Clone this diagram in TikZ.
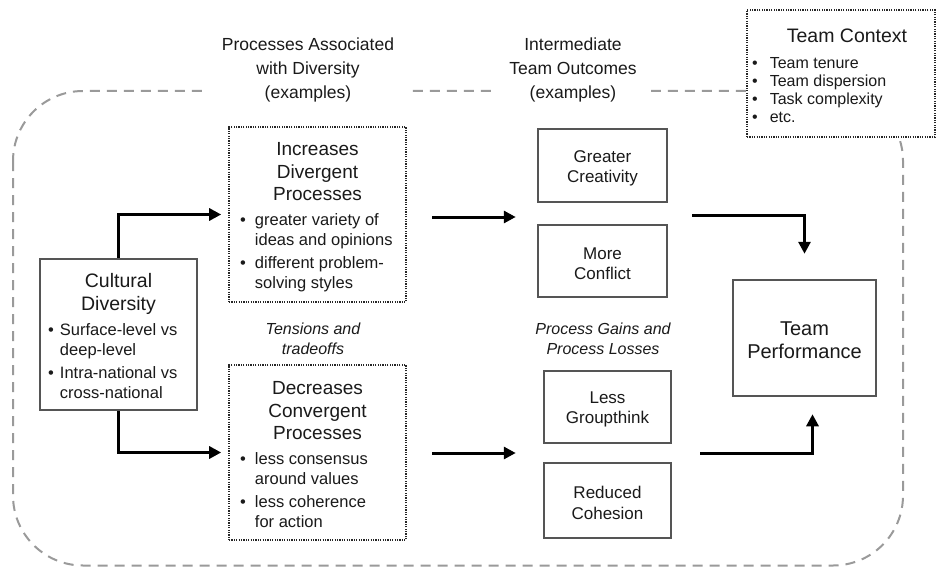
\documentclass[tikz,border=0pt]{standalone}
\usepackage{fontspec}
\setmainfont{Liberation Sans}
\usetikzlibrary{arrows.meta}
\definecolor{boxgray}{HTML}{555555}
\definecolor{dashgray}{HTML}{9A9A9A}
\definecolor{ink}{HTML}{1A1A1A}
\newcommand{\blist}[2]{\begin{tabular}{@{}l@{\hspace{#1}}l@{}}#2\end{tabular}}
\begin{document}
\begin{tikzpicture}[x=1pt,y=-1pt,
  every node/.style={text=ink},
  solidbox/.style={draw=boxgray,line width=2.5pt,fill=white,align=center,inner sep=0pt},
  dotbox/.style={draw=black!85,line width=1.6pt,dash pattern=on 1.2pt off 1.2pt,fill=white,inner sep=0pt},
  outer/.style={draw=dashgray,line width=2pt,dash pattern=on 10pt off 7pt,rounded corners=70pt},
  arr/.style={line width=3pt,-{Triangle[length=12pt,width=12pt]}},
  head/.style={align=center,fill=white,inner xsep=14pt,inner ysep=2pt,font=\fontsize{17.5}{24}\selectfont},
  body/.style={align=center,font=\fontsize{17}{20.5}\selectfont},
  big/.style={align=center,font=\fontsize{19.5}{23}\selectfont},
  note/.style={align=center,font=\fontsize{16}{19.5}\selectfont\itshape},
  lst/.style={anchor=west,inner sep=0pt,font=\fontsize{16.5}{20}\selectfont}
]
\useasboundingbox (0,0) rectangle (939,567);

% outer dashed frame
\draw[outer] (13,91) rectangle (903,565.5);

% headings
\node[head] (h1) at (308,69.5) {Processes Associated\\with Diversity\\(examples)};
\node[head] (h2) at (573,69.5) {Intermediate\\Team Outcomes\\(examples)};

% team context
\node[dotbox,minimum width=188pt,minimum height=127pt] (tc) at (841,73.5) {};
\node[big] (tct) at (847,36) {Team Context};
\node[lst,font=\fontsize{16}{18}\selectfont] (tcl) at (752,92) {\blist{12pt}{\textbullet & Team tenure\\ \textbullet & Team dispersion\\ \textbullet & Task complexity\\ \textbullet & etc.}};

% cultural diversity
\node[solidbox,minimum width=157pt,minimum height=151pt] (cd) at (118.5,334.5) {};
\node[big] (cdt) at (118.5,293.5) {Cultural\\Diversity};
\node[lst] (cdl) at (48,363) {\blist{6pt}{\textbullet & Surface-level vs\\ & deep-level\\[3pt] \textbullet & Intra-national vs\\ & cross-national}};

% increases divergent
\node[dotbox,minimum width=177pt,minimum height=175pt] (inc) at (317.5,214.5) {};
\node[align=center,font=\fontsize{19}{22.5}\selectfont] (inct) at (317.5,172) {Increases\\Divergent\\Processes};
\node[lst] (incl) at (240,253) {\blist{9pt}{\textbullet & greater variety of\\ & ideas and opinions\\[3pt] \textbullet & different problem-\\ & solving styles}};

% decreases convergent
\node[dotbox,minimum width=177pt,minimum height=175pt] (dec) at (317.5,452.5) {};
\node[align=center,font=\fontsize{19}{22.5}\selectfont] (dect) at (317.5,411) {Decreases\\Convergent\\Processes};
\node[lst] (decl) at (240,491.5) {\blist{9pt}{\textbullet & less consensus\\ & around values\\[3pt] \textbullet & less coherence\\ & for action}};

% notes
\node[note] (n1) at (313,339) {Tensions and\\tradeoffs};
\node[note] (n2) at (603,339) {Process Gains and\\Process Losses};

% outcomes
\node[solidbox,minimum width=129pt,minimum height=73pt] (gc) at (602.5,165.5) {};
\node[body] (gct) at (602.5,168.5) {Greater\\Creativity};
\node[solidbox,minimum width=129pt,minimum height=72pt] (mc) at (602.5,261) {};
\node[body] (mct) at (602.5,263.5) {More\\Conflict};
\node[solidbox,minimum width=127pt,minimum height=72pt] (lg) at (607.5,407) {};
\node[body] (lgt) at (607.5,409.5) {Less\\Groupthink};
\node[solidbox,minimum width=127pt,minimum height=75pt] (rc) at (607.5,500.5) {};
\node[body] (rct) at (607.5,503) {Reduced\\Cohesion};

% team performance
\node[solidbox,minimum width=143pt,minimum height=116pt] (tp) at (804.5,338) {};
\node[align=center,font=\fontsize{20}{23.5}\selectfont] (tpt) at (804.5,340) {Team\\Performance};

% connectors
\draw[arr] (cd.north) |- ([xshift=-7pt]inc.west);
\draw[arr] (cd.south) |- ([xshift=-7pt]dec.west);
\coordinate (m1) at (432,217);
\draw[arr] (m1) -- ([xshift=-21pt]m1 -| gc.west);
\coordinate (m2) at (432,453);
\draw[arr] (m2) -- ([xshift=-27pt]m2 -| lg.west);
\coordinate (r1) at (692,215);
\draw[arr] (r1) -| ([yshift=25pt]tp.north);
\coordinate (r2) at (700,453);
\draw[arr] (r2) -| ([xshift=8pt,yshift=-17pt]tp.south);
\end{tikzpicture}
\end{document}
